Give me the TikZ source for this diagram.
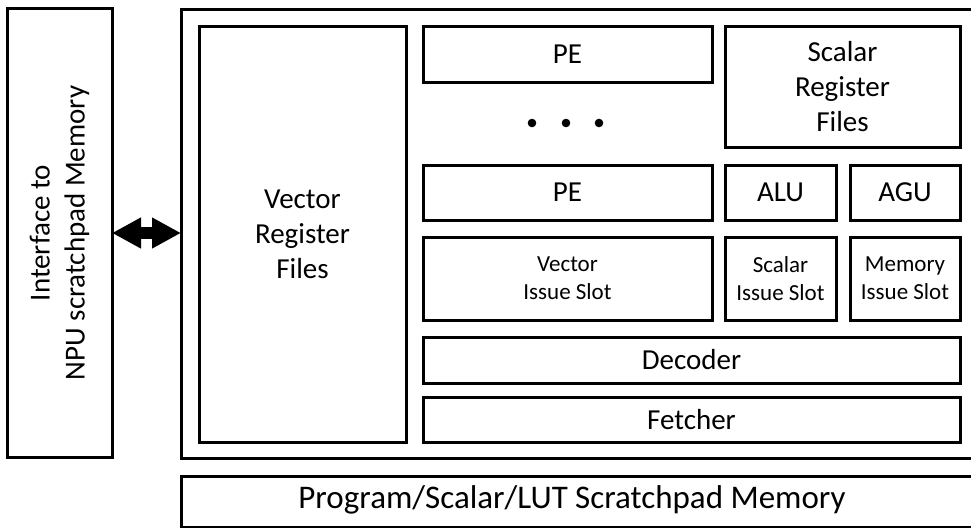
\documentclass[tikz,border=0pt]{standalone}
\usepackage{fontspec}
\setmainfont{Carlito}
\usetikzlibrary{arrows.meta}

\tikzset{
  blk/.style={draw=black, line width=3pt, inner sep=0pt, outer sep=0pt,
              anchor=north west, align=center, fill=white},
  bigtxt/.style={font=\fontsize{29}{35}\selectfont},
  smalltxt/.style={font=\fontsize{23}{28}\selectfont},
  memtxt/.style={font=\fontsize{33}{38}\selectfont},
  dblarrow/.style={line width=12pt,
    {Triangle[length=29pt,width=29pt]}-{Triangle[length=29pt,width=29pt]}}
}

\begin{document}
\begin{tikzpicture}[x=1pt, y=-1pt]
  \useasboundingbox (0,0) rectangle (971,527);
  \clip (0,0) rectangle (971,527);
  \fill[white] (0,0) rectangle (971,527);

  % memory interface on the left
  \node[blk, minimum width=105pt, minimum height=448pt] (iface) at (7,9) {};
  \node[bigtxt, rotate=90, align=center] at (iface.center)
    {Interface to\\NPU scratchpad Memory};

  % processor core frame
  \node[blk, minimum width=799pt, minimum height=448pt] (core) at (181,10) {};

  % register files and processing elements
  \node[blk, bigtxt, minimum width=207pt, minimum height=415pt] (vrf) at (199,27)
    {Vector\\Register\\Files};
  \node[blk, bigtxt, minimum width=289pt, minimum height=55pt] (pe1) at (423,27) {PE};
  \node[blk, bigtxt, minimum width=235pt, minimum height=120pt] (srf) at (725,27)
    {Scalar\\Register\\Files};
  \foreach \dx in {532,566,599}
    \fill (\dx,123) circle (4.3pt);
  \node[blk, bigtxt, minimum width=289pt, minimum height=55pt] (pe2) at (423,165) {PE};
  \node[blk, bigtxt, minimum width=111pt, minimum height=55pt] (alu) at (725,165) {ALU};
  \node[blk, bigtxt, minimum width=110pt, minimum height=55pt] (agu) at (850,165) {AGU};

  % issue slots
  \node[blk, smalltxt, minimum width=289pt, minimum height=83pt] (vis) at (423,237)
    {Vector\\Issue Slot};
  \node[blk, smalltxt, minimum width=111pt, minimum height=83pt] (sis) at (725,237)
    {Scalar\\Issue Slot};
  \node[blk, smalltxt, minimum width=110pt, minimum height=83pt] (mis) at (850,237)
    {Memory\\Issue Slot};

  % front end
  \node[blk, bigtxt, minimum width=537pt, minimum height=46pt] (dec) at (423,337) {Decoder};
  \node[blk, bigtxt, minimum width=537pt, minimum height=45pt] (fet) at (423,397) {Fetcher};

  % scratchpad memory below the core
  \node[blk, minimum width=799pt, minimum height=51pt] (spm) at (181,476) {};
  \node[memtxt] at (572,500) {Program/Scalar/LUT Scratchpad Memory};

  % bidirectional link between interface and core
  \draw[dblarrow] (iface.east) -- (iface.east -| core.west);
\end{tikzpicture}
\end{document}
